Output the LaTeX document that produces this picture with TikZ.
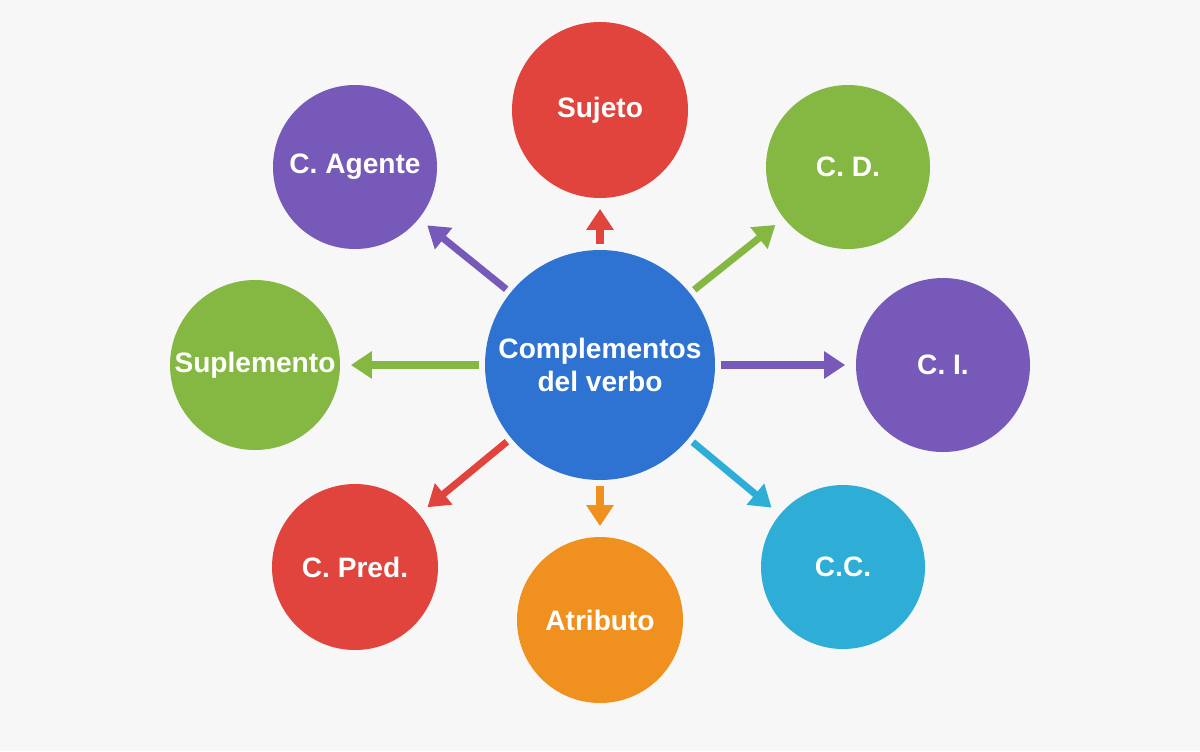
\documentclass[tikz,border=0pt]{standalone}
\usepackage{fontspec}
\setmainfont{Liberation Sans}
\usetikzlibrary{arrows.meta}
\definecolor{cred}{HTML}{E0443C}
\definecolor{cpur}{HTML}{7659B8}
\definecolor{cgre}{HTML}{84B842}
\definecolor{cblu}{HTML}{2E72D2}
\definecolor{ccya}{HTML}{2EAED6}
\definecolor{cora}{HTML}{F0901E}
\definecolor{bg}{HTML}{F7F7F7}
\begin{document}
\begin{tikzpicture}[x=0.02cm,y=-0.02cm,
  circ/.style={circle,fill=#1,text=white,font=\bfseries\fontsize{16}{19}\selectfont,align=center,inner sep=0pt},
  arr/.style={draw=#1,line width=4pt,-{Triangle[length=12pt,width=15pt]},shorten <=3pt,shorten >=6pt}]
\fill[bg] (0,0) rectangle (1200,751);
\node[circ=cblu,minimum size=230*0.02cm] (c) at (600,365) {Complementos\\del verbo};
\node[circ=cred,minimum size=176*0.02cm] (suj) at (600,110) {Sujeto};
\node[circ=cpur,minimum size=164*0.02cm] (age) at (355,167) {C. Agente};
\node[circ=cgre,minimum size=164*0.02cm] (cd) at (848,167) {C. D.};
\node[circ=cgre,minimum size=170*0.02cm] (sup) at (255,365) {Suplemento};
\node[circ=cpur,minimum size=174*0.02cm] (ci) at (943,365) {C. I.};
\node[circ=cred,minimum size=166*0.02cm] (pred) at (355,567) {C. Pred.};
\node[circ=cora,minimum size=166*0.02cm] (atr) at (600,620) {Atributo};
\node[circ=ccya,minimum size=164*0.02cm] (cc) at (843,567) {C.C.};
\draw[arr=cred] (c) -- (suj);
\draw[arr=cpur] (c) -- (age);
\draw[arr=cgre] (c) -- (cd);
\draw[arr=cgre] (c) -- (sup);
\draw[arr=cpur] (c) -- (ci);
\draw[arr=cred] (c) -- (pred);
\draw[arr=cora] (c) -- (atr);
\draw[arr=ccya] (c) -- (cc);
\end{tikzpicture}
\end{document}
